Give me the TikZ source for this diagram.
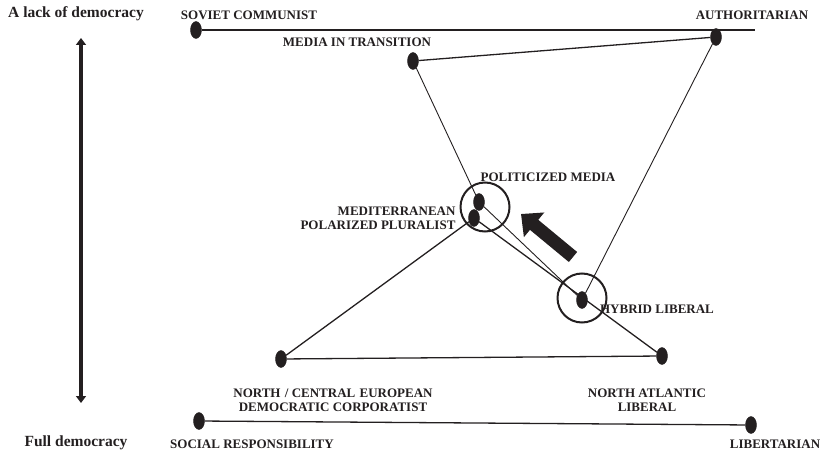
\documentclass[tikz,border=0pt]{standalone}
\usepackage{fontspec}
\setmainfont{Liberation Serif}
\usetikzlibrary{positioning,shapes.geometric,arrows.meta}
\definecolor{ink}{RGB}{35,31,32}

\begin{document}
\begin{tikzpicture}[x=1pt,y=-1pt,color=ink,font=\bfseries\fontsize{13}{14}\selectfont,
    dot/.style={draw,fill,ellipse,minimum width=11pt,minimum height=17pt,inner sep=0pt},
    ring/.style={draw,circle,line width=2pt,minimum size=49pt,inner sep=0pt},
    head/.style={font=\bfseries\fontsize{15.5}{16}\selectfont}]
\useasboundingbox (0,0) rectangle (829,454);
% axis
\node[head] (lack) at (76,14) {A lack of democracy};
\node[head] (full) at (76,443) {Full democracy};
\coordinate (top) at (81,38);
\coordinate (bot) at (81,403);
\draw[line width=3.5pt,{Triangle[length=7pt,width=10pt]}-{Triangle[length=7pt,width=10pt]}] (top) -- (bot);
% models
\node[dot] (sov) at (196,30) {};
\coordinate (sovend) at (755,30);
\node[dot] (auth) at (716,37) {};
\node[dot] (media) at (413,61) {};
\node[dot] (pol) at (479,202) {};
\node[dot] (med) at (474,218) {};
\node[dot] (hyb) at (582,300) {};
\node[dot] (nc) at (281,359) {};
\node[dot] (na) at (662,356) {};
\node[dot] (soc) at (199,421) {};
\node[dot] (lib) at (751,425) {};
\node[ring] (polring) at (485,207) {};
\node[ring] (hybring) at (582,298) {};
% labels
\node (sovl) at (249,15) {SOVIET COMMUNIST};
\node (authl) at (752,15) {AUTHORITARIAN};
\node (medial) at (357,42) {MEDIA IN TRANSITION};
\node (poll) at (548,177) {POLITICIZED MEDIA};
\node[align=right,anchor=east] (medl) at (459,218) {MEDITERRANEAN\\POLARIZED PLURALIST};
\node (hybl) at (657,309) {HYBRID LIBERAL};
\node[align=center] (ncl) at (333,400) {NORTH\,\,/ CENTRAL\,\,EUROPEAN\\DEMOCRATIC CORPORATIST};
\node[align=center] (nal) at (647,400) {NORTH ATLANTIC\\LIBERAL};
\node (socl) at (252,444) {SOCIAL RESPONSIBILITY};
\node (libl) at (775,444) {LIBERTARIAN};
% connectors
\path[line width=1.3pt]
    (sov) edge (sovend)
    (media) edge (auth)
    (med) edge (nc)
          edge (na)
    (nc) edge (na)
    (soc) edge (lib);
\path[line width=0.9pt]
    (media) edge (pol)
    (pol) edge (hyb)
    (auth) edge (hyb);
% shift
\coordinate (from) at (573,257);
\coordinate (to) at (521,214);
\draw[line width=13pt,-{Triangle[length=17pt,width=31pt]}] (from) -- (to);
\end{tikzpicture}
\end{document}
